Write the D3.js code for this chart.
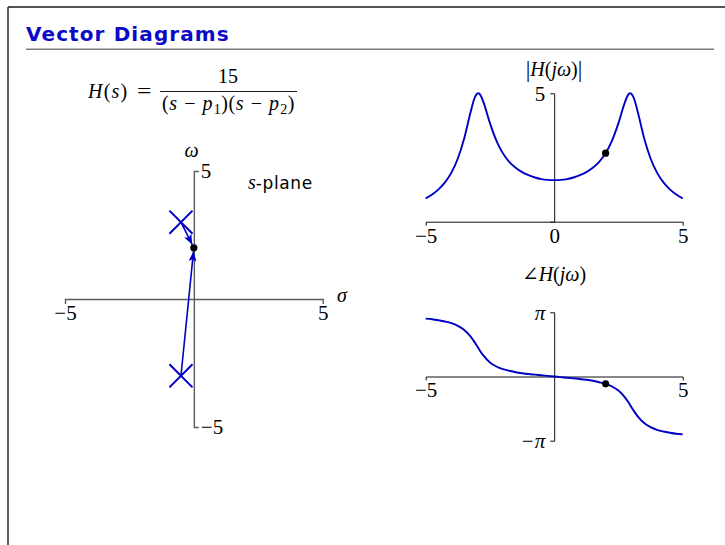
<!DOCTYPE html>
<html>
<head>
<meta charset="utf-8">
<script src="https://cdn.jsdelivr.net/npm/d3@7"></script>
<style>
  html, body { margin: 0; padding: 0; background: #fff; }
  svg { display: block; }
</style>
</head>
<body>
<svg id="slide" width="725" height="545"></svg>
<script>
// ---- data ----------------------------------------------------------------
// poles of H(s) in the s-plane (real part, imaginary part)
const poleRe = [-0.5, -0.5];
const poleIm = [3, -3];
// the evaluation point s = j*omega0
const evalRe = 0;
const evalIm = 2;

// frequency samples and the sampled response H(j omega)
const omega = [-5, -4.75, -4.5, -4.25, -4, -3.75, -3.5, -3.25, -3.125, -3, -2.95, -2.875, -2.75,
  -2.5, -2.25, -2, -1.75, -1.5, -1.25, -1, -0.75, -0.5, -0.25, 0, 0.25, 0.5, 0.75, 1, 1.25,
  1.5, 1.75, 2, 2.25, 2.5, 2.75, 2.875, 2.95, 3, 3.125, 3.25, 3.5, 3.75, 4, 4.25, 4.5, 4.75, 5];
const magnitude = [0.91, 1.06, 1.26, 1.53, 1.91, 2.46, 3.25, 4.28, 4.74, 4.98, 5.00, 4.94, 4.65,
  3.84, 3.16, 2.67, 2.33, 2.10, 1.93, 1.81, 1.72, 1.66, 1.63, 1.62, 1.63, 1.66, 1.72, 1.81, 1.93,
  2.10, 2.33, 2.67, 3.16, 3.84, 4.65, 4.94, 5.00, 4.98, 4.74, 4.28, 3.25, 2.46, 1.91, 1.53, 1.26, 1.06, 0.91];
const phase = [2.83, 2.80, 2.75, 2.69, 2.61, 2.48, 2.28, 1.95, 1.73, 1.49, 1.39, 1.24, 1.02,
  0.69, 0.49, 0.36, 0.28, 0.21, 0.16, 0.12, 0.09, 0.06, 0.03, 0, -0.03, -0.06, -0.09, -0.12, -0.16,
  -0.21, -0.28, -0.36, -0.49, -0.69, -1.02, -1.24, -1.39, -1.49, -1.73, -1.95, -2.28, -2.48, -2.61,
  -2.69, -2.75, -2.80, -2.83];

// axis ticks
const planeTicks = [-5, 5];
const magXTicks = [-5, 0, 5];
const magYTicks = [5];
const phaseXTicks = [-5, 5];
const phaseYTicks = [-Math.PI, Math.PI];
const phaseYLabels = ["\u2212\u03C0", "\u03C0"];

// ---- styles --------------------------------------------------------------
const BLUE = "#0000c4";
const SERIF = "'Liberation Serif', 'DejaVu Serif', serif";
const SANS = "'DejaVu Sans', 'Noto Sans', sans-serif";
const MATH_SIZE = 20;
const TICK_SIZE = 21;
const numFmt = d => d3.format("d")(d);

const svg = d3.select("#slide");

// slide frame and title
svg.append("line").attr("x1", 8).attr("x2", 725).attr("y1", 7).attr("y2", 7)
  .attr("stroke", "#1a1a1a").attr("stroke-width", 1.3);
svg.append("line").attr("x1", 8).attr("x2", 8).attr("y1", 7).attr("y2", 545)
  .attr("stroke", "#2a2a2a").attr("stroke-width", 1.5);
svg.append("text").attr("x", 26).attr("y", 40.5)
  .attr("font-family", SANS).attr("font-weight", "bold").attr("font-size", 20)
  .attr("letter-spacing", 1.1).attr("fill", "#0a0ac8")
  .text("Vector Diagrams");
svg.append("line").attr("x1", 26).attr("x2", 714).attr("y1", 49.2).attr("y2", 49.2)
  .attr("stroke", "#7c7c7c").attr("stroke-width", 1.5);

// ---- transfer function ---------------------------------------------------
function mathText(x, y, anchor) {
  return svg.append("text").attr("x", x).attr("y", y)
    .attr("font-family", SERIF).attr("font-size", MATH_SIZE)
    .attr("text-anchor", anchor || "start").attr("fill", "#000");
}
{
  const t = mathText(88, 98).attr("letter-spacing", 1.2);
  t.append("tspan").attr("font-style", "italic").text("H");
  t.append("tspan").text("(");
  t.append("tspan").attr("font-style", "italic").text("s");
  t.append("tspan").text(")");
  mathText(137, 98).attr("textLength", 14.5).attr("lengthAdjust", "spacingAndGlyphs").text("=");
  mathText(228, 83, "middle").text("15");
  svg.append("line").attr("x1", 160).attr("x2", 297).attr("y1", 91.5).attr("y2", 91.5)
    .attr("stroke", "#000").attr("stroke-width", 0.9);
  const d = mathText(228.5, 110, "middle").attr("letter-spacing", 0.6);
  [1, 2].forEach(k => {
    d.append("tspan").text("(");
    d.append("tspan").attr("font-style", "italic").text("s");
    d.append("tspan").attr("dx", 6.5).text("\u2212");
    d.append("tspan").attr("dx", 6.5).attr("font-style", "italic").text("p");
    d.append("tspan").attr("font-size", 14).attr("dx", 0.5).attr("dy", 4).text(k);
    d.append("tspan").attr("dy", -4).text(")");
  });
}

// ---- s-plane -------------------------------------------------------------
const sx = d3.scaleLinear().domain([-5, 5]).range([65, 322.7]);
const sy = d3.scaleLinear().domain([-5, 5]).range([427, 171]);
const AXIS_GRAY = "#5c5c5c";

function styleAxis(g, color, width) {
  g.attr("font-family", SERIF).attr("font-size", TICK_SIZE);
  g.select(".domain").attr("stroke", color).attr("stroke-width", width);
  g.selectAll(".tick line").remove();
  g.selectAll(".tick text").attr("fill", "#000");
}

svg.append("g").attr("transform", `translate(0,${sy(0)})`)
  .call(d3.axisBottom(sx).tickValues(planeTicks).tickFormat(numFmt)
    .tickSizeInner(0).tickSizeOuter(5).tickPadding(6))
  .call(g => styleAxis(g, AXIS_GRAY, 1.4));
svg.append("g").attr("transform", `translate(${sx(0)},0)`)
  .call(d3.axisRight(sy).tickValues(planeTicks).tickFormat(numFmt)
    .tickSizeInner(0).tickSizeOuter(5).tickPadding(7))
  .call(g => styleAxis(g, AXIS_GRAY, 1.4));

mathText(337, 302).attr("font-style", "italic").text("\u03C3");
mathText(191.5, 156.5, "middle").attr("font-style", "italic").text("\u03C9");
{
  const t = svg.append("text").attr("x", 248).attr("y", 188.5).attr("fill", "#000");
  t.append("tspan").attr("font-family", SERIF).attr("font-style", "italic")
    .attr("font-size", MATH_SIZE).text("s");
  t.append("tspan").attr("font-family", SANS).attr("font-size", 17)
    .attr("letter-spacing", 0.6).text("-plane");
}

// arrowhead
svg.append("defs").append("marker")
  .attr("id", "head").attr("viewBox", "0 0 10 8")
  .attr("refX", 10).attr("refY", 4)
  .attr("markerWidth", 10).attr("markerHeight", 8)
  .attr("markerUnits", "userSpaceOnUse").attr("orient", "auto")
  .append("path").attr("d", "M0,0 L10,4 L0,8 L2,4 Z").attr("fill", BLUE);

const DOT_R = 3.6;
const ex = sx(evalRe), ey = sy(evalIm);
poleRe.forEach((re, i) => {
  const x0 = sx(re), y0 = sy(poleIm[i]);
  const len = Math.hypot(ex - x0, ey - y0);
  const ux = (ex - x0) / len, uy = (ey - y0) / len;
  svg.append("line")
    .attr("x1", x0).attr("y1", y0)
    .attr("x2", ex - ux * DOT_R).attr("y2", ey - uy * DOT_R)
    .attr("stroke", BLUE).attr("stroke-width", 1.6)
    .attr("marker-end", "url(#head)");
});
svg.selectAll(".pole").data(poleRe.map((re, i) => [re, poleIm[i]])).enter()
  .append("path").attr("class", "pole")
  .attr("transform", d => `translate(${sx(d[0])},${sy(d[1])})`)
  .attr("d", d3.symbol(d3.symbolX, 350)())
  .attr("fill", "none").attr("stroke", BLUE).attr("stroke-width", 2);
svg.append("circle").attr("cx", ex).attr("cy", ey).attr("r", DOT_R).attr("fill", "#000");

// ---- magnitude plot ------------------------------------------------------
const mx = d3.scaleLinear().domain([-5, 5]).range([425.7, 682.7]);
const my = d3.scaleLinear().domain([0, 5]).range([221.7, 93.3]);
const AXIS_BLACK = "#111";
const idx = omega.indexOf(evalIm);

mathText(554, 75.5, "middle").call(t => {
  t.append("tspan").attr("font-size", 23).attr("dy", 1).text("|");
  t.append("tspan").attr("font-style", "italic").attr("dy", -1).text("H");
  t.append("tspan").text("(");
  t.append("tspan").attr("font-style", "italic").text("j\u03C9");
  t.append("tspan").text(")");
  t.append("tspan").attr("font-size", 23).attr("dy", 1).text("|");
});
svg.append("g").attr("transform", `translate(0,${my(0)})`)
  .call(d3.axisBottom(mx).tickValues(magXTicks).tickFormat(numFmt)
    .tickSizeInner(0).tickSizeOuter(4).tickPadding(6))
  .call(g => styleAxis(g, AXIS_BLACK, 1));
svg.append("g").attr("transform", `translate(${mx(0)},0)`)
  .call(d3.axisLeft(my).tickValues(magYTicks).tickFormat(numFmt)
    .tickSizeInner(0).tickSizeOuter(4).tickPadding(9))
  .call(g => styleAxis(g, AXIS_BLACK, 1));

svg.append("path")
  .datum(omega.map((w, i) => [w, magnitude[i]]))
  .attr("d", d3.line().x(d => mx(d[0])).y(d => my(d[1])).curve(d3.curveMonotoneX))
  .attr("fill", "none").attr("stroke", BLUE).attr("stroke-width", 1.9);
svg.append("circle").attr("cx", mx(omega[idx])).attr("cy", my(magnitude[idx]))
  .attr("r", DOT_R).attr("fill", "#000");

// ---- phase plot ----------------------------------------------------------
const py = d3.scaleLinear().domain([-Math.PI, Math.PI]).range([440.7, 312.3]);

mathText(554, 281, "middle").call(t => {
  t.append("tspan").text("\u2220");
  t.append("tspan").attr("font-style", "italic").text("H");
  t.append("tspan").text("(");
  t.append("tspan").attr("font-style", "italic").text("j\u03C9");
  t.append("tspan").text(")");
});
svg.append("g").attr("transform", `translate(0,${py(0)})`)
  .call(d3.axisBottom(mx).tickValues(phaseXTicks).tickFormat(numFmt)
    .tickSizeInner(0).tickSizeOuter(4).tickPadding(6))
  .call(g => styleAxis(g, AXIS_BLACK, 1));
svg.append("g").attr("transform", `translate(${mx(0)},0)`)
  .call(d3.axisLeft(py).tickValues(phaseYTicks).tickSizeInner(0).tickSizeOuter(4).tickPadding(9)
    .tickFormat((d, i) => phaseYLabels[i]))
  .call(g => styleAxis(g, AXIS_BLACK, 1))
  .call(g => g.selectAll(".tick text").attr("font-style", "italic"));

svg.append("path")
  .datum(omega.map((w, i) => [w, phase[i]]))
  .attr("d", d3.line().x(d => mx(d[0])).y(d => py(d[1])).curve(d3.curveMonotoneX))
  .attr("fill", "none").attr("stroke", BLUE).attr("stroke-width", 1.9);
svg.append("circle").attr("cx", mx(omega[idx])).attr("cy", py(phase[idx]))
  .attr("r", DOT_R).attr("fill", "#000");
</script>
</body>
</html>
